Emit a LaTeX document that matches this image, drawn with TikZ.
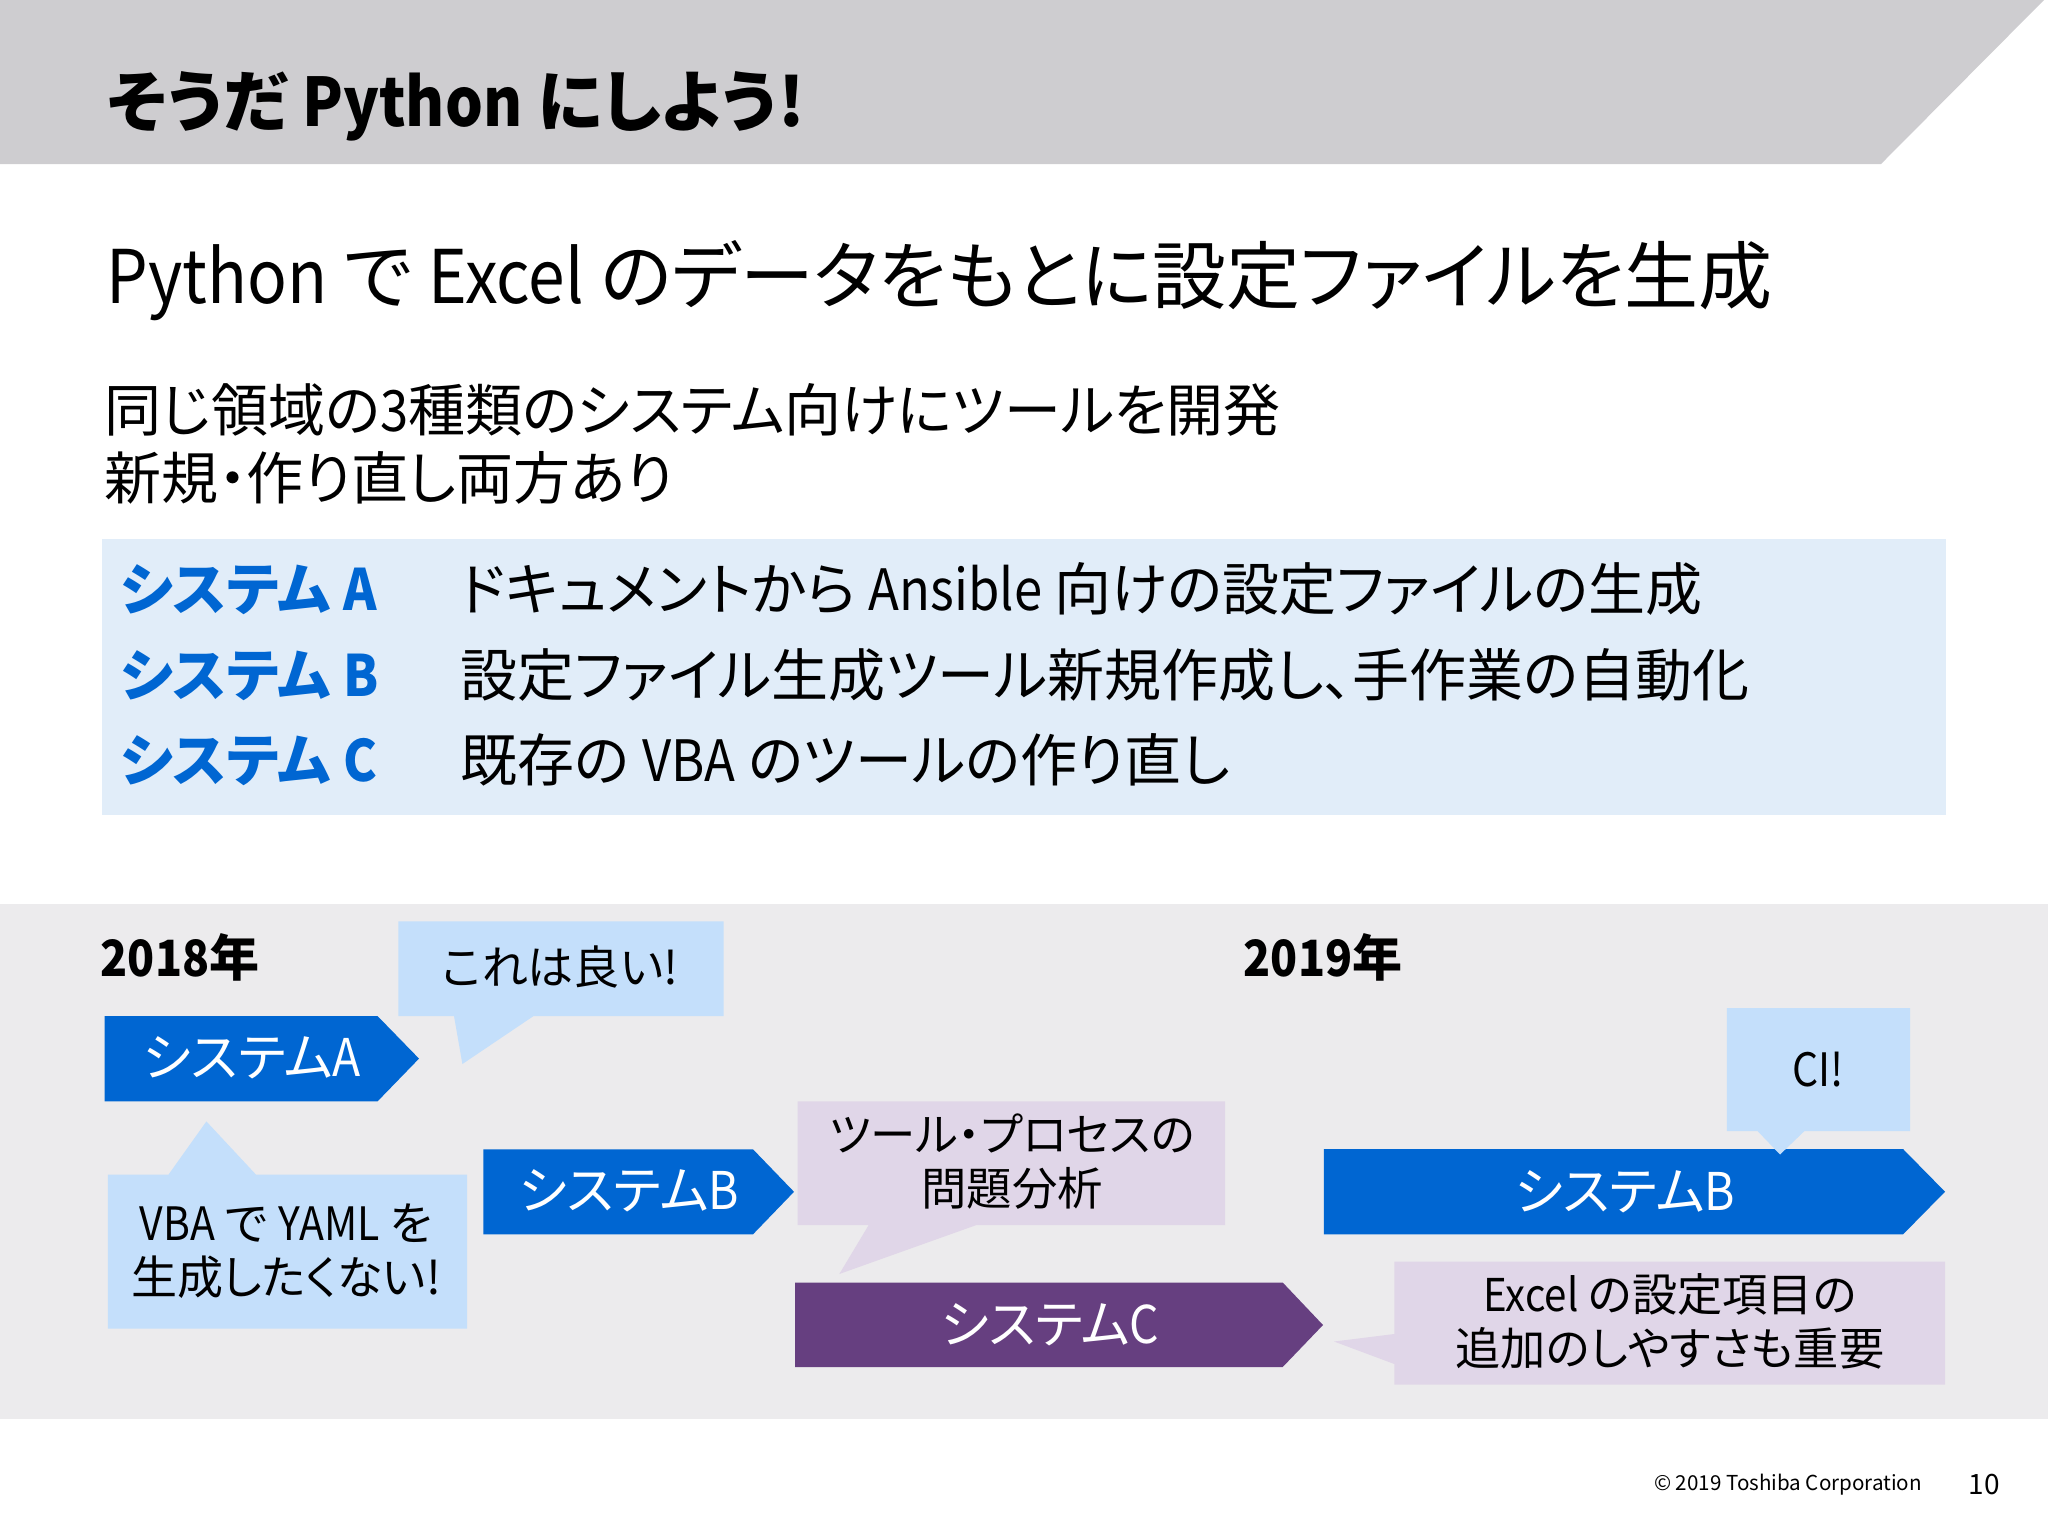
\documentclass[tikz,border=0pt]{standalone}
\usepackage{fontspec}
\setmainfont{Noto Sans CJK JP}[RawFeature=+palt]
\newfontfamily\latnfont{Noto Sans CJK JP}[FakeStretch=0.89]
\newcommand{\latn}[1]{{\latnfont #1}}
\definecolor{bannergray}{HTML}{CECDD0}
\definecolor{bandgray}{HTML}{ECEBED}
\definecolor{boxblue}{HTML}{E1EDF9}
\definecolor{sysblue}{HTML}{0066D2}
\definecolor{syspurple}{HTML}{663F80}
\definecolor{noteblue}{HTML}{C4DFFB}
\definecolor{notepurple}{HTML}{E0D6E8}
\tikzset{
  head/.style={anchor=west,inner sep=0pt,font=\fontsize{37}{44}\selectfont},
  body/.style={anchor=west,inner sep=0pt,font=\fontsize{28.5}{33}\selectfont},
  sysname/.style={body,text=sysblue,font=\fontsize{28.5}{33}\selectfont\bfseries},
  year/.style={anchor=center,inner sep=0pt,font=\fontsize{25}{28}\selectfont\bfseries},
  arrowtext/.style={anchor=center,inner sep=0pt,text=white,font=\fontsize{26}{30}\selectfont},
  notetext/.style={anchor=center,inner sep=0pt,align=center,font=\fontsize{23}{27}\selectfont},
  foot/.style={anchor=center,inner sep=0pt,font=\fontsize{10.3}{12}\selectfont}
}
\begin{document}
\begin{tikzpicture}[x=0.5pt,y=-0.5pt]
\useasboundingbox (0,0) rectangle (2048,1536);
% background shapes
\fill[bannergray] (0,0) -- (2044,0) -- (1881,164) -- (0,164) -- cycle;
\fill[boxblue] (102,539) rectangle (1946,815);
\fill[bandgray] (0,904) rectangle (2048,1419);
% title and text
\node[head,font=\fontsize{33.5}{40}\selectfont\bfseries] (title) at (107,106) {そうだ \latn{Python} にしよう\kern1pt!};
\node[head] (sub) at (106,281) {\latn{Python} で \latn{Excel} のデータをもとに設定ファイルを生成};
\node[body] (lineone) at (104,410) {同じ領域の\latn{3}種類のシステム向けにツールを開発};
\node[body] (linetwo) at (104,478) {新規・作り直し両方あり};
\node[sysname] (nameA) at (120,590) {システム \latn{A}};
\node[sysname] (nameB) at (120,676) {システム \latn{B}};
\node[sysname] (nameC) at (120,761) {システム \latn{C}};
\node[body] (textA) at (460,589) {ドキュメントから \latn{Ansible} 向けの設定ファイルの生成};
\node[body] (textB) at (460,675) {設定ファイル生成ツール新規作成し、手作業の自動化};
\node[body] (textC) at (460,760) {既存の \latn{VBA} のツールの作り直し};
\node[year] (yearone) at (180,957) {\latn{2018}年};
\node[year] (yeartwo) at (1323,957) {\latn{2019}年};
% arrows
\fill[sysblue] (104.5,1016) -- (377.5,1016) -- (419,1058.6) -- (377.5,1101.4) -- (104.5,1101.4) -- cycle;
\node[arrowtext] (sysA) at (252,1058) {システム\latn{A}};
\fill[sysblue] (483.3,1149.3) -- (753,1149.3) -- (794,1191.8) -- (753,1234.3) -- (483.3,1234.3) -- cycle;
\node[arrowtext] (sysB) at (629,1191) {システム\latn{B}};
\fill[syspurple] (795,1282.5) -- (1282.7,1282.5) -- (1323,1325) -- (1282.7,1367) -- (795,1367) -- cycle;
\node[arrowtext] (sysC) at (1050,1325) {システム\latn{C}};
\fill[sysblue] (1323.8,1149) -- (1903,1149) -- (1945,1191.7) -- (1903,1234.4) -- (1323.8,1234.4) -- cycle;
\node[arrowtext] (sysBlong) at (1625,1192) {システム\latn{B}};
% speech bubbles
\fill[noteblue] (398.4,921.4) -- (723.7,921.4) -- (723.7,1016) -- (533.6,1016) -- (462.4,1064) -- (454,1016) -- (398.4,1016) -- cycle;
\node[notetext] (good) at (560,967) {これは良い!};
\fill[noteblue] (107.8,1174.6) -- (168.5,1174.6) -- (206.4,1121.4) -- (256,1174.6) -- (467,1174.6) -- (467,1328.6) -- (107.8,1328.6) -- cycle;
\node[notetext] (vba) at (286,1251) {\latn{VBA} で \latn{YAML} を\\生成したくない!};
\fill[notepurple] (797.5,1101.4) -- (1225,1101.4) -- (1225,1225) -- (976.5,1225) -- (839.3,1274) -- (868.7,1225) -- (797.5,1225) -- cycle;
\node[notetext,font=\fontsize{22.7}{27}\selectfont] (process) at (1012,1162) {ツール・プロセスの\\問題分析};
\fill[noteblue] (1726.8,1008) -- (1910,1008) -- (1910,1131) -- (1804.5,1131) -- (1780,1154.5) -- (1757.5,1131) -- (1726.8,1131) -- cycle;
\node[notetext] (ci) at (1818,1070) {\latn{CI!}};
\fill[notepurple] (1394.3,1261.6) -- (1945,1261.6) -- (1945,1384.6) -- (1394.3,1384.6) -- (1394.3,1364) -- (1334,1341.5) -- (1394.3,1334) -- cycle;
\node[notetext,font=\fontsize{22.6}{27}\selectfont] (excel) at (1670,1321) {\latn{Excel} の設定項目の\\追加のしやすさも重要};
% footer
\node[foot] (copy) at (1788,1485) {© 2019 Toshiba Corporation};
\node[foot,font=\fontsize{14}{16}\selectfont] (page) at (1984,1484) {10};
\end{tikzpicture}
\end{document}
